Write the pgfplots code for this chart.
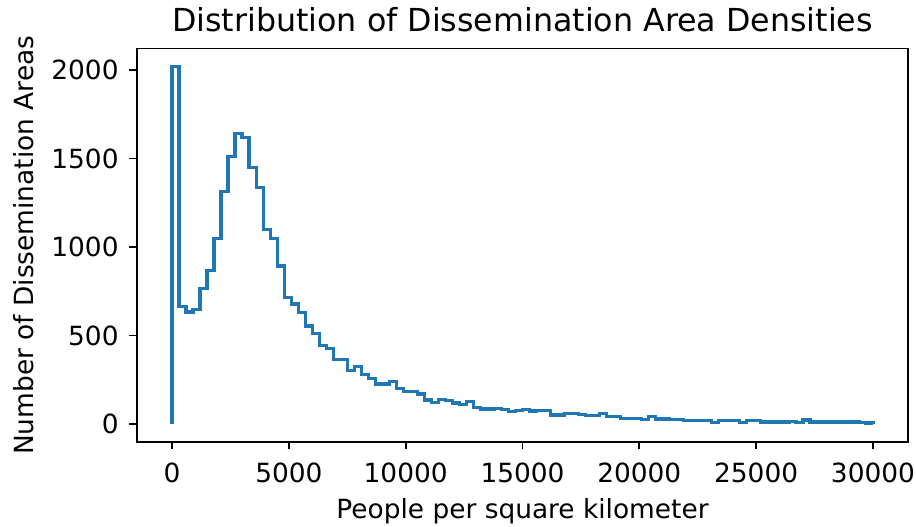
\documentclass[border=0pt]{standalone}
\usepackage{pgfplots}
\pgfplotsset{compat=1.18}
\usepackage{pgfplotstable}
\usepackage{fontspec}
\setmainfont{DejaVu Sans}
\definecolor{mplblue}{RGB}{31,119,180}
\pgfplotstableread{
x y
0 0
0 2020
300 665
600 632
900 648
1200 765
1500 866
1800 1047
2100 1313
2400 1510
2700 1642
3000 1618
3300 1450
3600 1335
3900 1100
4200 1049
4500 893
4800 716
5100 678
5400 629
5700 554
6000 512
6300 445
6600 426
6900 366
7200 366
7500 302
7800 324
8100 279
8400 258
8700 226
9000 226
9300 241
9600 200
9900 185
10200 185
10500 169
10800 136
11100 120
11400 139
11700 132
12000 119
12300 111
12600 126
12900 92
13200 85
13500 85
13800 88
14100 81
14400 70
14700 77
15000 80
15300 73
15600 77
15900 75
16200 51
16500 51
16800 58
17100 58
17400 54
17700 47
18000 47
18300 58
18600 40
18900 40
19200 32
19500 32
19800 32
20100 24
20400 40
20700 28
21000 28
21300 26
21600 26
21900 19
22200 19
22500 19
22800 19
23100 8
23400 19
23700 19
24000 19
24300 8
24600 19
24900 19
25200 11
25500 11
25800 11
26100 11
26400 15
26700 8
27000 23
27300 11
27600 11
27900 11
28200 11
28500 11
28800 11
29100 11
29400 8
29700 6
30000 6
30000 0
}\histdata
\begin{document}
\begin{tikzpicture}
\begin{axis}[
  scale only axis,
  width=385.5pt, height=196.6pt,
  xmin=-1500, xmax=31500, ymin=-101, ymax=2121,
  xtick={0,5000,10000,15000,20000,25000,30000},
  ytick={0,500,1000,1500,2000},
  scaled x ticks=false, scaled y ticks=false,
  /pgf/number format/assume math mode=true,
  /pgf/number format/1000 sep={},
  tick align=outside, tick pos=left,
  major tick length=3.85pt,
  every tick/.style={black, line width=0.88pt},
  axis line style={line width=0.88pt},
  ticklabel style={font=\fontsize{13.2}{15}\selectfont, inner sep=0pt},
  xticklabel style={anchor=north, yshift=-6.65pt},
  yticklabel style={anchor=east, xshift=-5.15pt},
  title={Distribution of Dissemination Area Densities},
  every axis title/.style={at={(axis description cs:0.5,1)}, anchor=base, yshift=8.4pt, inner sep=0pt, font=\fontsize{15.84}{18}\selectfont},
  xlabel={People per square kilometer},
  ylabel={Number of Dissemination Areas},
  every axis x label/.style={at={(axis description cs:0.5,0)}, anchor=base, yshift=-38.5pt, inner sep=0pt, font=\fontsize{13.2}{15}\selectfont},
  every axis y label/.style={at={(axis description cs:-0.1342,0.5)}, rotate=90, anchor=base, inner sep=0pt, font=\fontsize{13.2}{15}\selectfont},
]
\addplot[const plot, color=mplblue, line width=1.65pt, line join=miter] table[x=x, y=y] {\histdata};
\end{axis}
\pgfresetboundingbox
\path ([xshift=-68.5pt,yshift=-42.5pt]current axis.south west) rectangle ([xshift=4pt,yshift=24.3pt]current axis.north east);
\end{tikzpicture}
\end{document}
